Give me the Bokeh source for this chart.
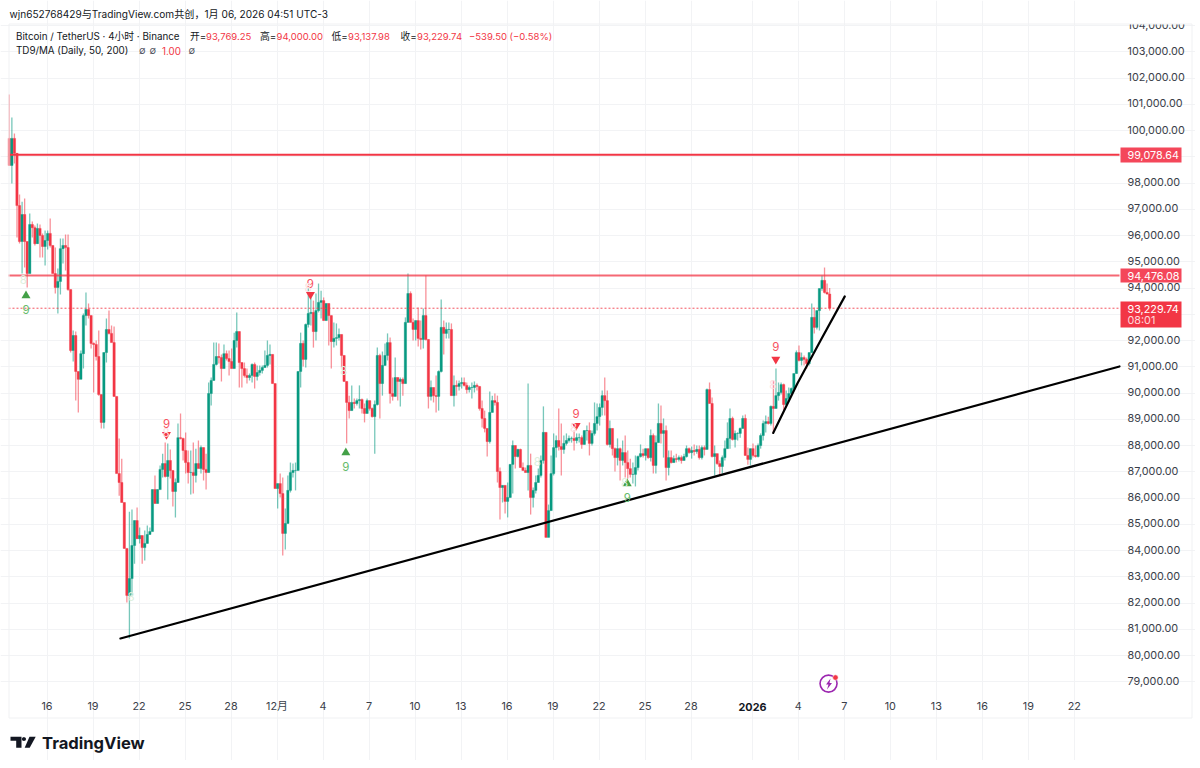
from bokeh.embed import file_html
from bokeh.resources import INLINE
from bokeh.plotting import figure
from bokeh.core.properties import value
from bokeh.models import (ColumnDataSource, LinearAxis, FixedTicker, Label,
                          BoxAnnotation, PolyAnnotation, Range1d, NumeralTickFormatter)

# ---- OHLC values, thousands of USDT, 4h bars ----
first_open = 99.70
close_k = [
 98.67,99.70,99.13,97.14,95.77,96.80,95.77,94.55,96.42,96.30,95.69,96.27,96.00,95.58,95.81,96.08,95.62,94.55,94.02,94.25,95.50,95.62,95.54,93.94,91.62,
 92.19,90.82,90.52,91.50,92.95,93.18,92.95,91.89,91.85,91.39,89.94,88.88,91.54,92.42,92.27,91.92,89.87,86.93,86.59,85.83,84.08,82.29,82.93,84.19,85.14,84.45,84.57,84.11,84.27,84.61,84.72,86.32,85.79,86.32,87.09,87.31,86.82,87.43,87.05,86.25,86.59,88.30,88.27,87.81,87.35,86.97,86.97,86.86,87.31,87.12,87.92,
 87.09,86.97,89.98,90.48,91.09,91.39,91.35,90.93,91.50,91.31,91.20,90.93,92.00,92.34,91.16,90.93,90.67,90.59,90.67,91.09,90.63,90.78,90.86,90.97,91.05,91.43,91.47,90.36,86.36,86.55,86.17,84.65,85.03,86.29,86.97,87.05,87.05,90.82,91.89,91.28,92.61,93.03,93.07,92.34,93.14,93.45,93.52,92.76,93.41,92.95,91.96,92.08,92.11,92.23,91.43,90.44,89.64,89.33,89.64,89.60,89.71,89.75,89.41,89.22,89.71,89.41,89.10,89.56,91.43,90.36,91.05,91.43,91.92,89.98,89.87,90.59,90.44,90.52,
 90.36,92.69,93.79,92.69,92.42,92.76,92.08,92.04,92.95,92.04,89.87,90.21,89.90,89.87,90.82,92.50,92.27,92.42,92.42,89.90,90.29,90.25,90.36,90.40,90.29,90.13,90.21,90.21,90.29,90.25,89.41,89.03,88.65,88.15,89.26,89.71,89.64,87.01,86.40,86.48,85.87,86.02,87.28,88.00,87.58,87.85,87.16,87.05,86.97,87.24,86.02,86.29,86.59,86.86,87.43,88.50,84.50,85.52,86.93,87.92,88.19,87.96,87.85,88.08,88.19,88.27,88.27,88.19,88.30,88.30,88.04,88.57,88.57,88.08,88.46,88.84,89.10,89.45,
 89.90,89.71,88.04,88.65,87.88,87.54,87.88,87.43,87.73,87.35,87.12,86.90,86.90,87.16,87.58,87.69,87.62,87.88,87.54,88.38,87.24,88.11,88.84,88.46,88.57,87.16,87.54,87.35,87.50,87.47,87.54,87.43,87.58,87.88,87.73,87.81,87.77,87.85,87.54,87.92,87.85,90.13,89.60,87.58,87.69,87.31,87.20,87.54,87.88,88.27,89.03,88.23,88.46,88.46,88.65,89.03,87.62,87.47,87.88,87.62,87.58,88.00,88.38,88.84,88.91,88.84,89.49,89.41,89.90,
 90.02,90.32,89.56,89.79,89.98,90.17,90.74,91.54,91.24,91.35,91.28,91.12,91.54,92.88,92.50,93.14,93.98,94.29,93.83,93.77,93.23]
high_k = [
 101.37,100.50,99.89,99.13,97.56,97.29,97.41,95.77,96.84,96.53,96.38,96.46,96.42,96.08,96.19,96.19,96.65,95.62,95.54,94.74,95.89,95.89,96.04,96.04,93.94,
 92.38,92.34,90.82,91.62,93.03,93.83,93.41,92.95,91.92,92.00,92.38,89.94,91.54,92.84,93.14,92.57,92.53,89.87,88.27,87.50,85.83,84.08,85.48,85.56,85.14,85.64,84.88,84.57,84.76,84.95,84.88,86.32,86.86,86.32,87.24,87.69,88.11,88.08,87.85,87.05,86.74,88.84,89.22,88.30,88.50,87.81,87.81,88.11,87.88,88.19,88.00,
 87.92,87.69,90.40,90.59,91.92,91.92,91.89,91.47,91.85,91.62,91.62,91.70,92.30,93.07,92.34,91.16,91.16,90.93,90.74,91.12,91.16,91.05,91.05,91.05,91.62,92.00,91.85,91.47,90.36,86.55,86.93,86.78,85.60,86.86,87.35,87.31,87.35,90.82,92.30,92.00,92.65,93.98,93.83,93.52,93.79,94.17,93.90,93.64,93.41,93.22,92.95,92.69,92.65,92.46,92.23,91.43,90.44,89.90,90.29,89.79,89.79,90.29,89.79,89.60,89.79,89.71,89.45,89.71,91.73,91.50,91.58,91.89,92.27,92.11,90.59,91.35,90.59,90.59,
 90.59,92.88,94.55,93.87,92.84,92.76,93.26,92.76,93.22,94.48,92.04,90.48,90.21,90.67,90.86,93.56,92.76,92.69,92.69,92.65,90.67,90.48,90.48,90.59,90.59,90.40,90.29,90.40,90.44,90.36,90.25,89.71,89.33,88.65,90.06,89.90,89.98,89.90,87.16,86.48,86.48,86.59,87.28,88.19,88.00,87.88,87.88,87.35,87.16,90.36,87.69,86.40,86.86,87.12,87.62,89.49,88.50,85.75,87.62,88.46,88.38,89.41,88.84,88.38,88.46,88.38,88.34,88.57,88.46,88.46,88.38,88.57,88.76,88.88,88.57,89.64,89.60,89.60,
 90.10,90.59,90.10,88.95,88.65,87.92,88.27,87.92,88.19,88.38,87.81,87.50,87.35,87.62,87.62,88.04,87.88,87.88,87.88,88.61,88.46,88.38,89.60,89.52,89.03,88.76,87.81,87.81,87.62,87.69,87.62,87.62,87.69,88.00,87.92,87.96,88.04,88.00,88.00,88.00,88.00,90.17,90.40,89.83,88.00,87.69,87.43,87.62,88.19,88.88,89.41,89.10,88.57,88.50,88.69,89.14,89.18,87.92,87.88,88.08,88.00,88.08,88.46,88.95,89.14,89.10,89.52,90.48,90.93,
 90.40,90.40,90.36,90.10,90.21,90.21,90.74,91.62,91.81,91.54,91.43,91.35,91.54,93.41,93.26,93.14,93.98,94.48,94.78,94.17,94.00]
low_k = [
 98.67,97.98,98.74,95.92,95.70,94.55,94.78,94.02,94.55,95.92,95.62,95.70,95.16,95.16,94.86,95.47,95.54,94.55,93.79,93.03,93.75,94.93,94.67,93.90,91.54,
 91.20,89.71,89.26,90.52,90.93,92.57,92.84,91.70,90.02,91.24,89.90,88.65,88.65,91.16,92.23,91.92,89.87,86.93,86.09,85.83,84.08,82.02,80.65,82.29,83.50,84.45,84.27,83.50,83.62,84.27,84.61,84.72,85.79,85.79,86.51,86.78,86.78,85.94,86.74,85.68,85.26,86.59,88.23,87.43,86.93,86.55,86.13,86.17,86.59,87.12,86.93,
 86.67,86.32,86.97,89.52,90.48,91.05,91.12,90.44,90.93,91.24,90.67,90.93,90.93,91.73,90.21,90.21,90.59,90.36,90.48,90.40,90.17,90.48,90.67,90.74,90.97,90.97,91.09,90.36,86.36,85.60,86.02,83.81,84.04,85.03,86.21,86.78,86.29,87.05,90.21,91.01,90.97,92.50,92.57,91.73,92.00,93.07,92.84,92.76,92.84,91.81,90.93,91.73,91.81,92.00,90.97,90.44,88.08,89.03,89.33,89.41,89.52,89.41,89.22,88.88,89.22,89.33,89.07,87.69,89.52,89.03,89.90,91.05,91.24,89.60,89.71,90.02,89.71,89.49,
 89.90,90.36,92.69,92.69,92.00,92.00,91.77,91.66,91.70,92.00,89.41,89.71,89.64,89.26,89.33,90.78,91.47,92.08,92.08,89.90,89.49,89.90,90.10,90.17,90.25,89.98,90.02,89.79,90.02,90.10,89.33,88.69,88.50,87.58,88.08,89.26,89.52,86.59,85.18,85.83,85.41,85.26,86.02,86.17,87.12,87.54,87.16,87.05,86.97,86.29,85.37,85.64,86.17,86.59,86.78,87.31,84.50,84.50,85.52,86.86,87.54,87.81,86.86,87.69,88.00,88.11,88.11,87.81,88.08,88.11,87.88,88.08,88.19,87.62,88.00,88.38,88.57,88.76,
 89.14,89.14,88.00,87.92,87.62,87.01,87.24,86.67,87.24,86.78,86.74,86.78,86.55,86.44,87.05,87.54,87.54,87.43,87.50,87.39,86.93,86.93,88.11,88.08,87.54,86.67,86.86,87.31,87.35,87.35,87.39,87.31,87.47,87.54,87.69,87.50,87.62,87.69,87.47,87.47,87.62,87.85,89.60,87.54,86.86,87.27,86.86,86.93,87.43,87.88,87.88,88.19,87.92,88.19,88.30,88.65,87.62,87.27,87.24,87.54,87.54,87.54,87.88,88.19,88.50,88.80,88.76,88.46,89.41,
 89.71,89.94,89.33,89.52,89.71,89.90,90.10,90.74,91.20,91.05,91.05,90.93,91.05,91.54,92.27,92.42,92.38,93.90,93.79,93.75,93.14]
assert len(close_k) == len(high_k) == len(low_k), (len(close_k), len(high_k), len(low_k))

first_bar_day = -2.458          # days from 16 Nov, first bar
bar_days = 4 / 24

price_ticks = list(range(79000, 104001, 1000))
day_ticks = [0, 3, 6, 9, 12, 15, 18, 21, 24, 27, 30, 33, 36, 39, 42, 46, 49, 52, 55, 58, 61, 64, 67]
day_labels = ["16", "19", "22", "25", "28", "12月", "4", "7", "10", "13", "16", "19", "22", "25", "28", "2026", "4", "7", "10", "13", "16", "19", "22"]

level_prices = [99078.64, 94476.08]
last_price = 93229.74

long_trend_days = [4.79, 69.946]
long_trend_prices = [80650, 91010]
steep_trend_days = [47.36, 48.93, 50.45, 52.03]
steep_trend_prices = [88480, 90350, 92000, 93680]

up_arrow_days = [-1.37, 19.49, 37.84]
up_arrow_prices = [93710, 87730, 86550]
up_nine_prices = [93180, 87200, 86020]
down_arrow_days = [7.79, 17.18, 34.51, 47.53]
down_arrow_prices = [88420, 93750, 88760, 91280]
down_nine_prices = [88840, 94170, 89220, 91770]
green_eight_days = [-1.55, 5.49, 19.34, 31.97, 37.67]
green_eight_prices = [94320, 82250, 90860, 87380, 86600]
red_eight_days = [7.76, 17.02, 34.34, 47.33]
red_eight_prices = [88480, 94020, 88680, 90320]
badge_day = [50.97]
badge_price = [78930]
badge_dot_day = [51.42]
badge_dot_price = [79160]

GREEN = "#089981"
RED = "#f23645"
FONT = "Inter, 'Noto Sans CJK SC'"
W, H = 1195, 760
PX_PER_DAY = 46 / 3
PX_PER_USD = 26.25 / 1000
CHART_LEFT, CHART_RIGHT = -2.511, 69.946       # plot area in days
CHART_BOTTOM, CHART_TOP = 78552, 104076        # plot area in USDT

# ---- derived bars ----
closes = [v * 1000 for v in close_k]
opens = [first_open * 1000] + closes[:-1]
highs = [max(h * 1000, o, c) for h, o, c in zip(high_k, opens, closes)]
lows = [min(l * 1000, o, c) for l, o, c in zip(low_k, opens, closes)]
days = [first_bar_day + i * bar_days for i in range(len(closes))]
colors = [GREEN if c >= o else RED for o, c in zip(opens, closes)]
src = ColumnDataSource(dict(x=days, o=opens, c=closes, h=highs, l=lows, col=colors,
                            top=[max(o, c) for o, c in zip(opens, closes)],
                            bot=[min(o, c) for o, c in zip(opens, closes)]))

x0 = -46.5 / PX_PER_DAY
y_top = 100000 + 130 / PX_PER_USD
p = figure(width=W, height=H, output_backend="svg", toolbar_location=None,
           x_range=Range1d(x0, x0 + W / PX_PER_DAY), y_range=Range1d(y_top - H / PX_PER_USD, y_top),
           min_border_left=0, min_border_right=0, min_border_top=0, min_border_bottom=0,
           x_axis_location=None, y_axis_location=None, background_fill_color="white", border_fill_color="white")
p.outline_line_color = None
# tick labels sit a pixel above their grid line
label_shift = 1 / PX_PER_USD
p.extra_y_ranges = {"labels": Range1d(y_top - H / PX_PER_USD - label_shift, y_top - label_shift)}

xaxis = LinearAxis(ticker=FixedTicker(ticks=day_ticks), fixed_location=CHART_BOTTOM,
                   major_label_overrides={t: (l if l != "2026" else "") for t, l in zip(day_ticks, day_labels)})
xaxis.axis_line_color = None
xaxis.major_tick_line_color = None
xaxis.minor_tick_line_color = None
xaxis.major_label_text_font = FONT
xaxis.major_label_text_font_size = "10.8px"
xaxis.major_label_text_color = "#3a3e49"
xaxis.major_label_standoff = 0
p.add_layout(xaxis, "below")

yaxis = LinearAxis(ticker=FixedTicker(ticks=price_ticks), fixed_location=CHART_RIGHT, y_range_name="labels",
                   formatter=NumeralTickFormatter(format="0,0.00"))
yaxis.axis_line_color = None
yaxis.major_tick_line_color = None
yaxis.minor_tick_line_color = None
yaxis.major_label_text_font = FONT
yaxis.major_label_text_font_size = "10.8px"
yaxis.major_label_text_color = "#3a3e49"
yaxis.major_label_standoff = 2
p.add_layout(yaxis, "right")

p.xgrid.ticker = FixedTicker(ticks=day_ticks)
p.ygrid.ticker = FixedTicker(ticks=price_ticks)
p.xgrid.bounds = (CHART_BOTTOM, CHART_TOP)
p.ygrid.bounds = (CHART_LEFT, CHART_RIGHT)
p.xgrid.grid_line_color = "#f2f3f5"
p.ygrid.grid_line_color = "#f2f3f5"

p.segment("x", "h", "x", "l", source=src, color="col", line_width=1.3, line_alpha=0.55)
p.vbar("x", 0.15, "top", "bot", source=src, fill_color="col", line_color="col", line_width=0.4)

for lvl, a in zip(level_prices, [1.0, 0.75]):
    p.line([CHART_LEFT, CHART_RIGHT], [lvl, lvl], line_color=RED, line_width=2, line_alpha=a)
p.line([CHART_LEFT, CHART_RIGHT], [last_price, last_price], line_color=RED, line_width=1, line_alpha=0.85, line_dash=[2, 2])

p.line(long_trend_days, long_trend_prices, line_color="black", line_width=2.2, line_cap="round")
p.line(steep_trend_days, steep_trend_prices, line_color="black", line_width=2.2, line_cap="round")

p.scatter(up_arrow_days, up_arrow_prices, marker="triangle", size=9, fill_color="#43a047", line_color="#43a047", line_width=0)
p.scatter(down_arrow_days, down_arrow_prices, marker="inverted_triangle", size=9, fill_color=RED, line_color=RED, line_width=0)
p.text(up_arrow_days, up_nine_prices, text=["9"] * len(up_arrow_days), text_align="center", text_baseline="middle",
       text_font=value(FONT), text_font_size="11.5px", text_color="#66bb6a")
p.text(down_arrow_days, down_nine_prices, text=["9"] * len(down_arrow_days), text_align="center", text_baseline="middle",
       text_font=value(FONT), text_font_size="11.5px", text_color="#f7525f")
p.text(green_eight_days, green_eight_prices, text=["8"] * len(green_eight_days), text_align="center", text_baseline="middle",
       text_font=value(FONT), text_font_size="11.5px", text_color="#dcefdc")
p.text(red_eight_days, red_eight_prices, text=["8"] * len(red_eight_days), text_align="center", text_baseline="middle",
       text_font=value(FONT), text_font_size="11.5px", text_color="#fde0e2")


def sx(page_x):
    return page_x


def sy(page_y):
    return H - page_y


def text(page_x, page_y, s, color="#131722", size="9.8px", style="normal", align="left"):
    p.add_layout(Label(x=sx(page_x), y=sy(page_y), x_units="screen", y_units="screen", text=s,
                       text_font=FONT, text_font_size=size, text_color=color, text_font_style=style,
                       text_align=align, text_baseline="middle", level="overlay"))


def box(l, t, r, b, fill=None, line=None):
    p.add_layout(BoxAnnotation(left=sx(l), right=sx(r), top=sy(t), bottom=sy(b),
                               left_units="screen", right_units="screen", top_units="screen", bottom_units="screen",
                               fill_color=fill, fill_alpha=1 if fill else 0, line_color=line, line_alpha=1 if line else 0,
                               line_width=1, level="annotation"))


def poly(points, color):
    p.add_layout(PolyAnnotation(xs=[sx(a) for a, _ in points], ys=[sy(b) for _, b in points],
                                xs_units="screen", ys_units="screen", fill_color=color, fill_alpha=1,
                                line_color=None, level="annotation"))


# top price label is cut by the chart edge, then the outer frame
box(1120, 8, 1190, 23.5, "white", None)
box(8.5, 23.5, 1191.5, 717.5, None, "#f0f1f3")

# header and legend
text(9, 13, "wjn652768429与TradingView.com共创，1月 06, 2026 04:51 UTC-3", "#131722", "10.1px")
text(15.5, 36, "Bitcoin / TetherUS · 4小时 · Binance")
for lx, s in [(189.5, "开="), (259.5, "高="), (331, "低="), (400, "收=")]:
    text(lx, 36, s)
for lx, s in [(205.5, "93,769.25"), (276, "94,000.00"), (347.5, "93,137.98"), (416.5, "93,229.74"), (468.5, "−539.50 (−0.58%)")]:
    text(lx, 36, s, RED, "9.5px")
text(15.5, 50, "TD9/MA (Daily, 50, 200)")
for lx in [138.5, 149, 188]:
    text(lx, 50, "∅", "#50535e", "9.6px")
text(161.5, 50, "1.00", RED)

# price tags
box(1120, 147, 1181, 162, "#f4475a")
text(1127, 154.5, "99,078.64", "white", "10.8px")
box(1120, 268, 1181, 282, "#f4475a")
text(1127, 275, "94,476.08", "white", "10.8px")
box(1120, 301, 1181, 327, RED)
text(1127, 308, "93,229.74", "white", "10.8px")
text(1127, 320, "08:01", "#ffd9dc", "10.8px")

# bold year label
text(752, 706, "2026", "#131722", "10.8px", "bold", "center")

# logo
poly([(10, 736.3), (21, 736.3), (21, 747.3), (15.7, 747.3), (15.7, 740.2), (10, 740.2)], "#131722")
poly([(29, 736.3), (35.2, 736.3), (29.2, 747.3), (24.2, 747.3)], "#131722")
poly([(23.4, 736.6), (25, 737.2), (25.6, 738.6), (25, 740), (23.4, 740.6), (21.9, 740), (21.3, 738.6), (21.9, 737.2)], "#131722")
text(41.5, 742, "TradingView", "#131722", "16.6px", "bold")

# alert badge
p.scatter(badge_day, badge_price, marker="circle", size=17, fill_color=None, line_color="#9c27b0", line_width=1.6)
poly([(830, 678), (825.5, 684), (828, 684), (826.5, 689), (831.5, 682.5), (829, 682.5)], "#9c27b0")
p.scatter(badge_dot_day, badge_dot_price, marker="circle", size=5.5, fill_color=RED, line_color="white", line_width=0.6)

open("out.html", "w").write(file_html(p, INLINE))
